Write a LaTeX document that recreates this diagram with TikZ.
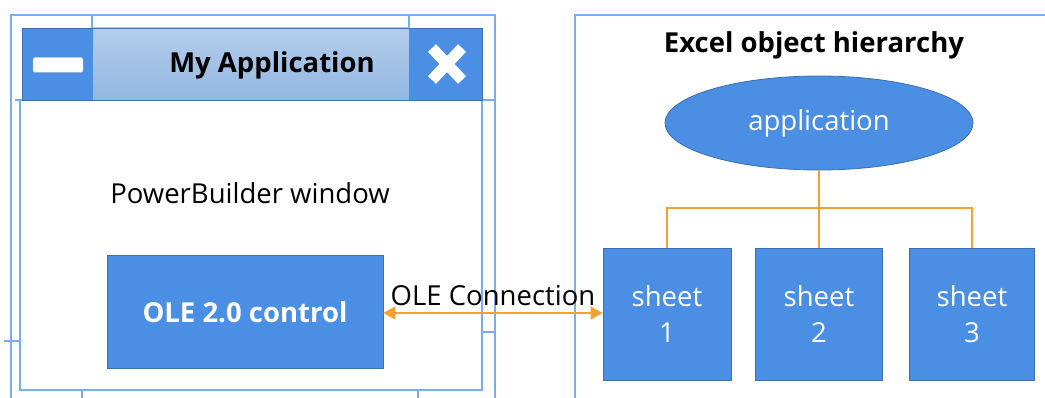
\documentclass[tikz,border=0pt]{standalone}
\usepackage{fontspec}
\setmainfont{Open Sans}
\usetikzlibrary{shapes.geometric,arrows.meta,calc}
\definecolor{boxblue}{HTML}{4A8FE3}
\definecolor{boxedge}{HTML}{3B6FB0}
\definecolor{frameblue}{HTML}{78AEF0}
\definecolor{conn}{HTML}{F5A030}
\definecolor{bartop}{HTML}{B3CDEB}
\definecolor{barbot}{HTML}{93B7E1}
\tikzset{
  frame/.style={draw=frameblue, line width=1.4pt},
  bluebox/.style={draw=boxedge, fill=boxblue, line width=0.8pt, text=white, align=center, inner sep=0pt},
  txt/.style={font=\fontsize{27.5}{36}\selectfont, inner sep=0pt},
  boldtxt/.style={font=\fontsize{27.5}{36}\selectfont\bfseries, inner sep=0pt},
  link/.style={draw=conn, line width=1.8pt},
}
\begin{document}
\begin{tikzpicture}[x=1pt,y=-1pt]
\useasboundingbox (0,0) rectangle (1045,398);
% left outer frame
\draw[frame] (11,398) -- (11,15) -- (495,15) -- (495,398);
\draw[frame] (92,15) -- (92,28);
\draw[frame] (409,15) -- (409,28);
\draw[frame] (15,100) -- (495,100);
% window body
\draw[frame] (20,100) rectangle (482,390);
\draw[frame] (82,390) -- (82,398);
\draw[frame] (418,390) -- (418,398);
\draw[frame] (4,341) -- (20,341);
\draw[frame] (482,332) -- (495,332);
% title bar
\shade[top color=bartop, bottom color=barbot] (93,28) rectangle (409,100);
\fill[boxblue] (22,28) rectangle (93,100);
\fill[boxblue] (409,28) rectangle (482,100);
\draw[draw=boxedge, line width=0.8pt] (22,28) rectangle (482,100);
\node[draw=gray!60, fill=white, rounded corners=2pt, minimum width=50pt, minimum height=15pt, inner sep=0pt] (minbtn) at (58,65) {};
\coordinate (xc) at (447,64);
\draw[white, line width=11pt] ($(xc)+(-15,-16)$) -- ($(xc)+(15,16)$);
\draw[white, line width=11pt] ($(xc)+(-15,16)$) -- ($(xc)+(15,-16)$);
\node[boldtxt] (title) at (272,65) {My Application};
\node[txt] (pbw) at (250,193) {PowerBuilder window};
\node[bluebox, boldtxt, text=white, minimum width=276pt, minimum height=113pt] (ole) at (245,312) {OLE 2.0 control};
% right frame
\draw[frame] (575,398) -- (575,15) -- (1045,15);
\node[boldtxt] (excel) at (814,45) {Excel object hierarchy};
\node[ellipse, bluebox, txt, minimum width=308pt, minimum height=94pt] (app) at (819,123) {application};
\node[bluebox, txt, minimum width=128pt, minimum height=132pt] (s1) at (667,314) {sheet\\1};
\node[bluebox, txt, minimum width=127pt, minimum height=132pt] (s2) at (819,314) {sheet\\2};
\node[bluebox, txt, minimum width=125pt, minimum height=132pt] (s3) at (972,314) {sheet\\3};
\coordinate (hub) at (819,208);
\draw[link, line width=1.6pt] (app.south) -- (s2.north);
\draw[link, line width=1.6pt] (s1.north) |- (hub) -| (s3.north);
\draw[link, {Triangle[length=12pt,width=13pt]}-{Triangle[length=12pt,width=13pt]}] (ole.east |- 0,313) -- (s1.west |- 0,313) node[midway, above=6pt, txt, text=black] (lbl) {OLE Connection};
\end{tikzpicture}
\end{document}
